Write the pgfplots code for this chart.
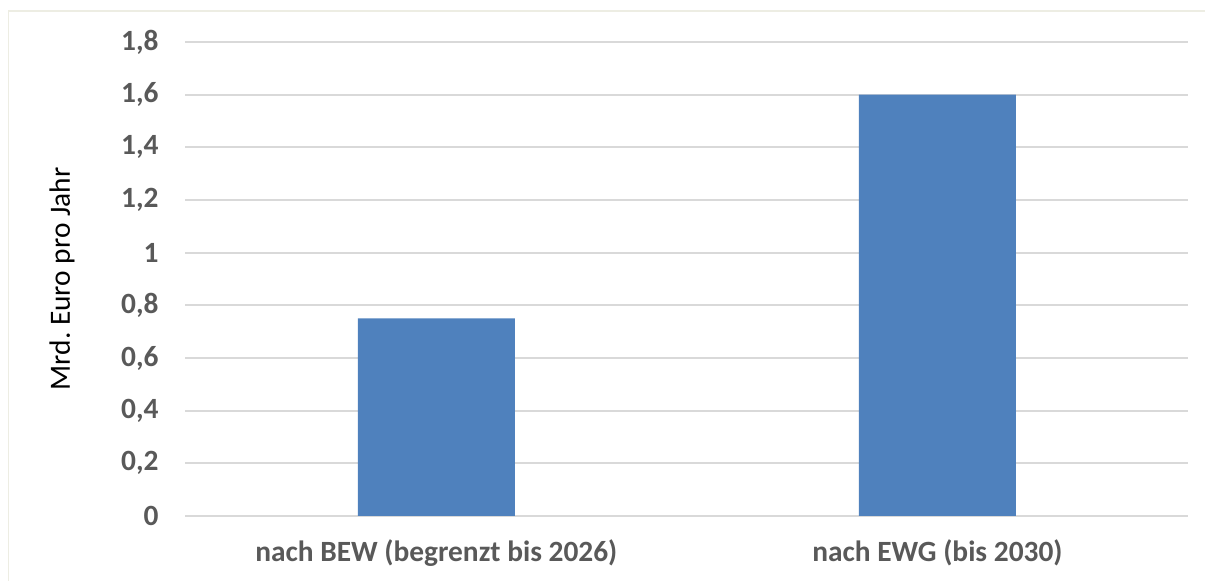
\documentclass[border=0pt]{standalone}
\usepackage{pgfplots}
\pgfplotsset{compat=1.18}
\usepackage{fontspec}
\setmainfont{Carlito}
\frenchspacing
\definecolor{barblue}{HTML}{4F81BD}
\definecolor{gridgray}{HTML}{D9D9D9}
\definecolor{txtgray}{HTML}{595959}
\definecolor{framec}{HTML}{EDEDE3}
\begin{document}
\begin{tikzpicture}[x=1bp,y=1bp]
\path[use as bounding box] (0,0) rectangle (1205,581);
\draw[framec, line width=1.2bp] (8.5,0) -- (8.5,570) -- (1205,570);
\begin{axis}[
  at={(185bp,65bp)}, anchor=south west,
  scale only axis, width=1003bp, height=474bp,
  xmin=-0.5015, xmax=1.5, ymin=0, ymax=1.8,
  axis line style={draw=none},
  ybar, bar width=157bp,
  xtick={0,1}, xticklabels={nach BEW (begrenzt bis 2026), nach EWG (bis 2030)},
  ytick={0,0.2,...,1.8},
  yticklabels={0,{0,2},{0,4},{0,6},{0,8},1,{1,2},{1,4},{1,6},{1,8}},
  major tick length=0,
  ymajorgrids, grid style={gridgray, line width=2bp},
  tick label style={font=\fontsize{29.5}{34}\selectfont\bfseries, text=txtgray},
  yticklabel style={anchor=east, xshift=-23bp},
  xticklabel style={anchor=base, yshift=-46bp},
  ylabel={Mrd.\ Euro pro Jahr},
  ylabel style={at={(axis description cs:-0.1226,0.5)}, anchor=center, rotate=0, font=\fontsize{29.5}{34}\selectfont, text=black},
  clip=false,
]
\addplot[fill=barblue, draw=none] coordinates {(0,0.75) (1,1.6)};
\end{axis}
\end{tikzpicture}
\end{document}
